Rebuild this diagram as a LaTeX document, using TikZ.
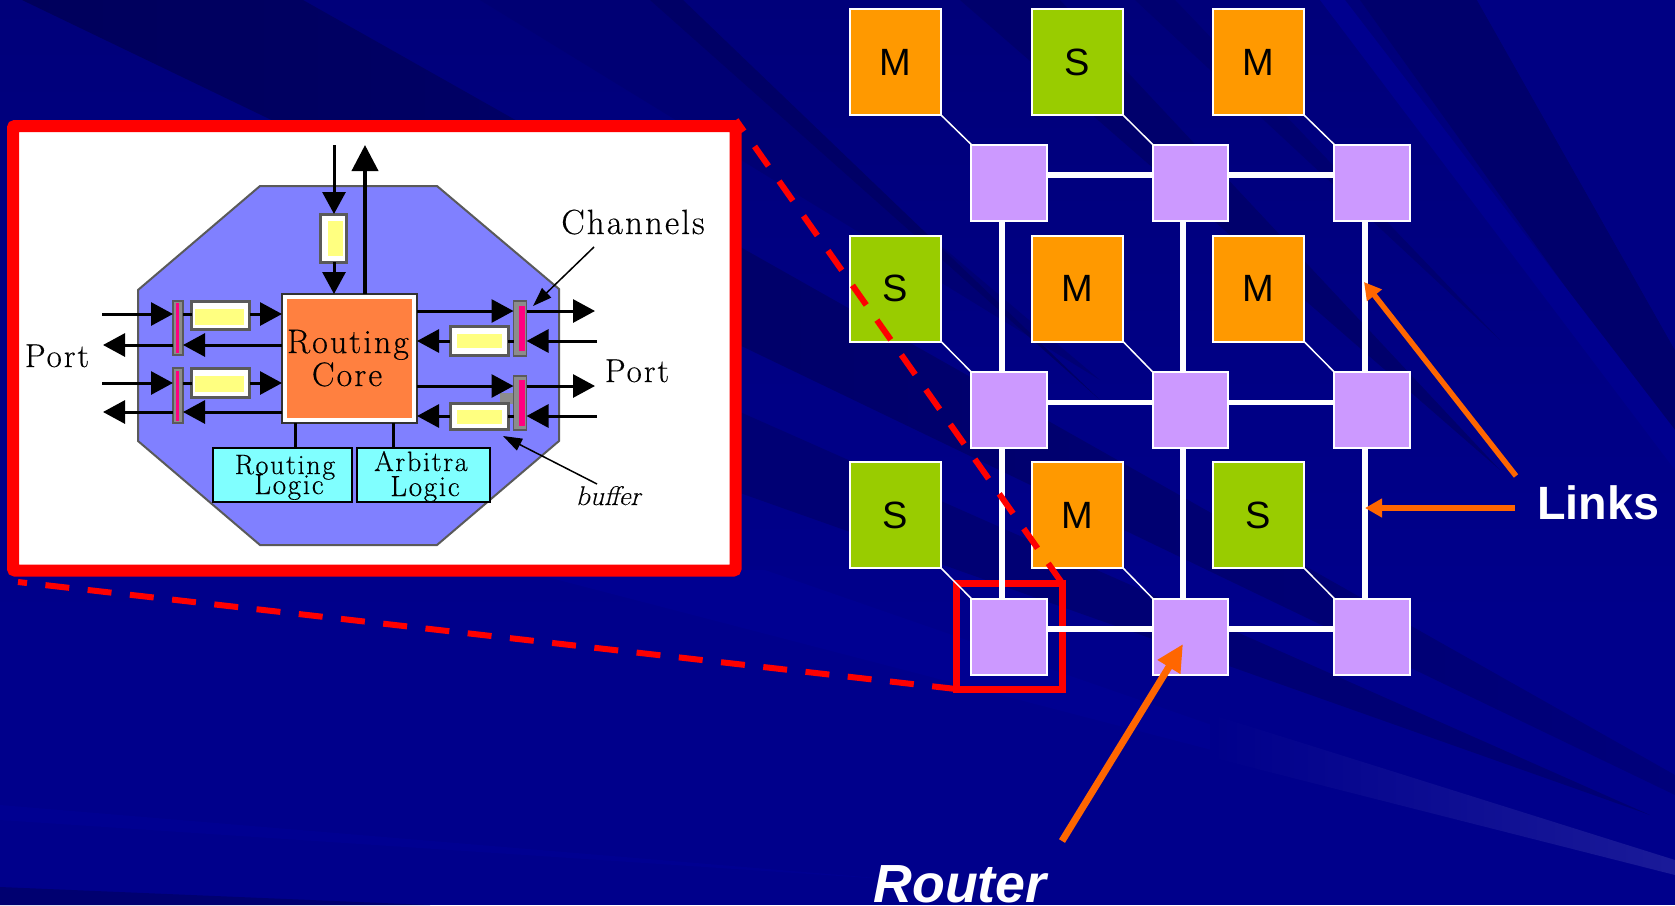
\documentclass[tikz,border=0pt]{standalone}
\usepackage{fontspec}
\usetikzlibrary{arrows.meta,calc}
\newfontfamily\arialfont{Liberation Sans}
\newfontfamily\pixfont[FakeBold=0.35,LetterSpace=6]{Latin Modern Roman}
\newfontfamily\pixitalic[FakeBold=0.35,FakeSlant=0.25,LetterSpace=2]{Latin Modern Roman}
\definecolor{bgbase}{HTML}{00008B}
\definecolor{bgtop}{HTML}{00007A}
\definecolor{rayA}{HTML}{00005C}
\definecolor{rayB}{HTML}{000070}
\definecolor{rayC}{HTML}{000074}
\definecolor{rayD}{HTML}{00006C}
\definecolor{bglight}{HTML}{000091}
\definecolor{streak}{HTML}{00008E}
\definecolor{octa}{HTML}{8080FF}
\definecolor{coreor}{HTML}{FF8040}
\definecolor{logiccy}{HTML}{80FFFF}
\definecolor{bufyel}{HTML}{FFFF80}
\definecolor{magent}{HTML}{FF0080}
\definecolor{barg}{HTML}{8C8C8C}
\definecolor{edgeg}{HTML}{5A5A5A}
\definecolor{nodeor}{HTML}{FF9900}
\definecolor{nodegr}{HTML}{99CC00}
\definecolor{nodepu}{HTML}{CC99FF}
\definecolor{arrowor}{HTML}{FF6600}
\tikzset{
  x=1pt,y=-1pt,
  tilebox/.style={draw=white,line width=2pt,minimum width=91pt,minimum height=106pt,inner sep=0pt,outer sep=0pt,text=black,font=\arialfont\fontsize{38}{38}\selectfont},
  mtile/.style={tilebox,fill=nodeor},
  stile/.style={tilebox,fill=nodegr},
  rtr/.style={draw=white,line width=2pt,fill=nodepu,minimum width=75.5pt,minimum height=76pt,inner sep=0pt,outer sep=0pt},
  vlink/.style={draw=white,line width=6pt},
  hlink/.style={draw=white,line width=5.5pt},
  dlink/.style={draw=white,line width=1.5pt},
  reddash/.style={draw=red,line width=6pt,dash pattern=on 24pt off 18.5pt},
  orarrow/.style={draw=arrowor,line width=5.5pt,-{Triangle[length=17pt,width=18pt]}},
  blk/.style={draw=black,line width=3pt},
  blkarrow/.style={blk,-{Triangle[length=22pt,width=23pt]}},
  smallarrow/.style={draw=black,line width=1.5pt,-{Triangle[length=19pt,width=13pt]}},
  chbar/.style={draw=edgeg,line width=1.5pt,fill=barg,inner sep=0pt,outer sep=0pt,minimum width=10pt},
  chbarr/.style={chbar,minimum width=13pt},
  bufbox/.style={draw=edgeg,line width=3pt,fill=white,inner sep=0pt,outer sep=0pt},
  logicbox/.style={draw=black,line width=2pt,fill=logiccy,inner sep=0pt,outer sep=0pt,minimum height=54pt},
  serif/.style={text=black,inner sep=0pt,anchor=base},
}
\begin{document}
\begin{tikzpicture}
\useasboundingbox (0,0) rectangle (1675,905);
% ---------- background ----------
\clip (0,0) rectangle (1675,905);
\fill[bgbase] (0,0) rectangle (1675,905);
\shade[top color=bgtop,bottom color=bgbase] (0,0) rectangle (1675,620);
% long dark ray across the whole picture
\shade[left color=rayA,right color=rayB!60!bgbase] (303,0) -- (1675,775) -- (1675,795) -- (22,0) -- cycle;
% second long ray
\fill[rayC] (740,412) -- (1650,815) -- (740,493) -- cycle;
\fill[bglight] (520,570) -- (765,570) -- (1500,825) -- cycle;
% upper rays
\fill[rayC] (480,0) -- (650,0) -- (1100,380) -- cycle;
\fill[rayA!50!rayB] (650,0) -- (683,0) -- (1100,400) -- cycle;
\fill[rayD] (960,0) -- (1060,0) -- (1500,470) -- cycle;
\fill[rayB] (1135,0) -- (1175,0) -- (1500,340) -- cycle;
\fill[rayD] (1360,0) -- (1477,0) -- (1675,350) -- (1675,440) -- cycle;
\fill[streak] (1320,0) -- (1345,0) -- (1675,430) -- (1675,470) -- cycle;
\fill[bgbase!94!black] (1477,0) -- (1675,0) -- (1675,350) -- cycle;
% light ray, bottom right
\shade[left color=bgbase,right color=blue!14!white!12!bgbase] (1210,714) -- (1675,860) -- (1675,875) -- (1210,757) -- cycle;
% bottom-left rays
\fill[bglight] (0,805) -- (900,880) -- (0,820) -- cycle;
\fill[rayB] (0,887) -- (430,905) -- (0,905) -- cycle;

% ---------- zoom frame and router diagram ----------
\node[draw=red,fill=white,line width=12pt,rounded corners=2pt,minimum width=722.5pt,minimum height=444.5pt,inner sep=0pt,outer sep=0pt] (frame) at (374.25,348.25) {};
\draw[fill=octa,draw=edgeg,line width=2pt] (260,186) -- (437,186) -- (559,289) -- (559,441) -- (437,545) -- (260,545) -- (138,441) -- (138,290) -- cycle;

% routing core
\node[fill=coreor,draw=white,line width=5pt,minimum width=130pt,minimum height=124pt,inner sep=0pt,outer sep=2.5pt] (core) at (349.5,358.5) {};
\draw[black!80,line width=2pt] (core.north west) rectangle (core.south east);
\node[serif,font=\pixfont\fontsize{34}{34}\selectfont] (corea) at (348,353) {Routing};
\node[serif,font=\pixfont\fontsize{34}{34}\selectfont] (coreb) at (347,386) {Core};

% logic boxes
\node[logicbox,minimum width=139pt] (rlogic) at (282.5,475) {};
\node[logicbox,minimum width=133pt] (alogic) at (423.5,475) {};
\node[serif,font=\pixfont\fontsize{28}{28}\selectfont] (rla) at (285,474) {Routing};
\node[serif,font=\pixfont\fontsize{29}{29}\selectfont] (rlb) at (289,494) {Logic};
\node[serif,font=\pixfont\fontsize{28}{28}\selectfont] (ala) at (421,471) {Arbitra};
\node[serif,font=\pixfont\fontsize{29}{29}\selectfont] (alb) at (425,496) {Logic};
\draw[blk] (core.south -| 295,0) -- (rlogic.north -| 295,0);
\draw[blk] (core.south -| 393,0) -- (alogic.north -| 393,0);

% top port
\node[bufbox,minimum width=26pt,minimum height=48pt] (buft) at (333,238) {};
\fill[bufyel] (328,221) rectangle (343,256);
\coordinate (topin) at (334,145);
\coordinate (topout) at (365,145);
\draw[blkarrow] (topin) -- (buft.north -| topin);
\draw[blkarrow] (buft.south -| topin) -- (core.north -| topin);
\draw[blk,line width=4pt,-{Triangle[length=26pt,width=26pt]}] (core.north -| topout) -- (topout);

% left port
\node[chbar,minimum height=54pt] (lb1) at (178,328) {};
\node[chbar,minimum height=55pt] (lb2) at (178,395.5) {};
\fill[magent] (176,303) rectangle (179,353);
\fill[magent] (176,371) rectangle (179,421);
\node[bufbox,minimum width=58pt,minimum height=28pt] (lbuf1) at (220.5,315.5) {};
\node[bufbox,minimum width=58pt,minimum height=29pt] (lbuf2) at (220.5,383) {};
\fill[bufyel] (195,309) rectangle (244,325);
\fill[bufyel] (195,376) rectangle (244,392);
\coordinate (lin1) at (102,314);
\coordinate (lout1) at (103,345);
\coordinate (lin2) at (102,383);
\coordinate (lout2) at (103,412);
\draw[blkarrow] (lin1) -- (lin1 -| lb1.west);
\draw[blk] (lin1 -| lb1.east) -- (lin1 -| lbuf1.west);
\draw[blkarrow] (lin1 -| lbuf1.east) -- (lin1 -| core.west);
\draw[blkarrow] (lin2) -- (lin2 -| lb2.west);
\draw[blk] (lin2 -| lb2.east) -- (lin2 -| lbuf2.west);
\draw[blkarrow] (lin2 -| lbuf2.east) -- (lin2 -| core.west);
\draw[blkarrow] (lout1 -| core.west) -- (lout1 -| lb1.east);
\draw[blkarrow] (lout1 -| lb1.west) -- (lout1);
\draw[blkarrow] (lout2 -| core.west) -- (lout2 -| lb2.east);
\draw[blkarrow] (lout2 -| lb2.west) -- (lout2);

% right port
\fill[barg] (500,393) rectangle (514,404);
\node[chbarr,minimum height=55pt] (rb1) at (520,328.5) {};
\node[chbarr,minimum height=54pt] (rb2) at (520,403) {};
\fill[magent] (519,306) rectangle (525,351);
\fill[magent] (519,380) rectangle (525,426);
\node[bufbox,minimum width=58pt,minimum height=29pt] (rbuf1) at (479,340.5) {};
\node[bufbox,minimum width=58pt,minimum height=26pt] (rbuf2) at (479,416) {};
\fill[bufyel] (457,334) rectangle (502,348);
\fill[bufyel] (457,410) rectangle (502,424);
\coordinate (rout1) at (595,311);
\coordinate (rin1) at (597,341);
\coordinate (rout2) at (595,386);
\coordinate (rin2) at (597,416);
\draw[blkarrow] (rout1 -| core.east) -- (rout1 -| rb1.west);
\draw[blkarrow] (rout1 -| rb1.east) -- (rout1);
\draw[blkarrow] (rout2 -| core.east) -- (rout2 -| rb2.west);
\draw[blkarrow] (rout2 -| rb2.east) -- (rout2);
\draw[blkarrow] (rin1) -- (rin1 -| rb1.east);
\draw[blk] (rin1 -| rb1.west) -- (rin1 -| rbuf1.east);
\draw[blkarrow] (rin1 -| rbuf1.west) -- (rin1 -| core.east);
\draw[blkarrow] (rin2) -- (rin2 -| rb2.east);
\draw[blk] (rin2 -| rb2.west) -- (rin2 -| rbuf2.east);
\draw[blkarrow] (rin2 -| rbuf2.west) -- (rin2 -| core.east);

% annotations
\node[serif,font=\pixfont\fontsize{35}{35}\selectfont] (chlab) at (633,234) {Channels};
\node[serif,font=\pixfont\fontsize{33}{33}\selectfont] (portl) at (57,367) {Port};
\node[serif,font=\pixfont\fontsize{33}{33}\selectfont] (portr) at (637,382) {Port};
\node[serif,font=\pixitalic\fontsize{27}{27}\selectfont] (buflab) at (608,505) {buffer};
\coordinate (chfrom) at (594,247);
\coordinate (chto) at (533,306);
\coordinate (buffrom) at (597,484);
\coordinate (bufto) at (503,436);
\draw[smallarrow] (chfrom) -- (chto);
\draw[smallarrow] (buffrom) -- (bufto);

% ---------- mesh ----------
\node[draw=red,line width=7pt,minimum width=106pt,minimum height=106pt,inner sep=0pt,outer sep=0pt] (redbox) at (1009,636) {};

\node[mtile] (t11) at (895.5,62) {M};
\node[stile] (t12) at (1077.5,62) {S};
\node[mtile] (t13) at (1258.5,62) {M};
\node[stile] (t21) at (895.5,288.5) {S};
\node[mtile] (t22) at (1077.5,288.5) {M};
\node[mtile] (t23) at (1258.5,288.5) {M};
\node[stile] (t31) at (895.5,515) {S};
\node[mtile] (t32) at (1077.5,515) {M};
\node[stile] (t33) at (1258.5,515) {S};

\node[rtr] (r11) at (1009,182.5) {};
\node[rtr] (r12) at (1190.5,182.5) {};
\node[rtr] (r13) at (1372,182.5) {};
\node[rtr] (r21) at (1009,410) {};
\node[rtr] (r22) at (1190.5,410) {};
\node[rtr] (r23) at (1372,410) {};
\node[rtr] (r31) at (1009,636.5) {};
\node[rtr] (r32) at (1190.5,636.5) {};
\node[rtr] (r33) at (1372,636.5) {};

\foreach \i in {1,2,3}{\foreach \j in {1,2,3}{
  \draw[dlink] (t\i\j.south east) -- (r\i\j.north west);
}}
\foreach \j in {1,2,3}{
  \draw[vlink] ([xshift=-7.5pt]r1\j.south) -- ([xshift=-7.5pt]r2\j.north);
  \draw[vlink] ([xshift=-7.5pt]r2\j.south) -- ([xshift=-7.5pt]r3\j.north);
}
\foreach \i in {1,2,3}{
  \draw[hlink] ([yshift=7.5pt]r\i1.east) -- ([yshift=7.5pt]r\i2.west);
  \draw[hlink] ([yshift=7.5pt]r\i2.east) -- ([yshift=7.5pt]r\i3.west);
}

% zoom guide lines
\coordinate (framecornerA) at (736,120);
\coordinate (framecornerB) at (18,582);
\draw[reddash] (redbox.north east) -- (framecornerA);
\draw[reddash] (redbox.south west) -- (framecornerB);

% labels and arrows
\node[text=white,anchor=base,inner sep=0pt,font=\arialfont\bfseries\fontsize{46.7}{46.7}\selectfont] (links) at (1598,519) {Links};
\node[text=white,anchor=base,inner sep=0pt,font=\arialfont\bfseries\itshape\fontsize{53.7}{53.7}\selectfont] (router) at (960,902) {Router};
\coordinate (la) at (1516,476);
\coordinate (lta) at (1364,282);
\coordinate (lb) at (1515,508);
\coordinate (ltb) at (1365,508);
\coordinate (ra) at (1062,841);
\coordinate (rta) at (1183,644);
\draw[orarrow] (la) -- (lta);
\draw[orarrow] (lb) -- (ltb);
\draw[orarrow,line width=7pt,-{Triangle[length=27pt,width=25pt]}] (ra) -- (rta);
\end{tikzpicture}
\end{document}
